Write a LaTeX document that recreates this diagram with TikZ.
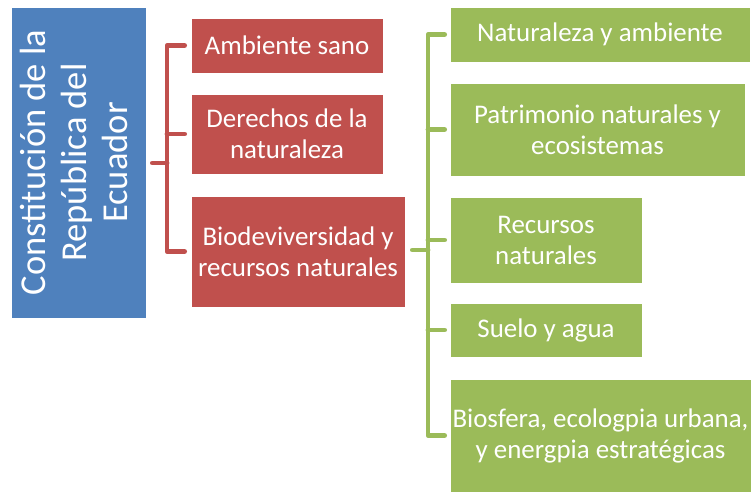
\documentclass[tikz,border=0pt]{standalone}
\usepackage{fontspec}
\usepackage{graphicx}
\setmainfont{Carlito}
\definecolor{cblue}{HTML}{4F81BD}
\definecolor{cred}{HTML}{C0504D}
\definecolor{cgreen}{HTML}{9BBB59}
\tikzset{
  box/.style={rectangle, draw=white, line width=0.8pt, inner sep=0pt, text=white, align=center,
    font=\fontsize{26.9}{31}\selectfont},
  bluebox/.style={box, fill=cblue},
  redbox/.style={box, fill=cred},
  greenbox/.style={box, fill=cgreen},
  redline/.style={draw=cred, line width=4.8pt, line cap=round, line join=round},
  greenline/.style={draw=cgreen, line width=4.8pt, line cap=round, line join=round},
}
\begin{document}
\begin{tikzpicture}[x=1pt,y=-1pt]
\useasboundingbox (0,0) rectangle (751,493);
\node[bluebox, minimum width=135pt, minimum height=311pt] (b) at (78.5,162.5)
  {\rotatebox{90}{\fontsize{36.5}{41}\selectfont\begin{tabular}{@{}c@{}}Constitución de la\\República del\\Ecuador\end{tabular}}};
\node[redbox, minimum width=192pt, minimum height=55pt] (r1) at (287,45.5) {Ambiente sano};
\node[redbox, minimum width=192pt, minimum height=80pt] (r2) at (287,134) {Derechos de la\\naturaleza};
\node[redbox, minimum width=214pt, minimum height=111pt] (r3) at (298,251.5) {Biodeviversidad y\\recursos naturales};
\node[greenbox, minimum width=300pt, minimum height=55pt] (g1) at (600,34.5) {Naturaleza y ambiente};
\node[greenbox, minimum width=295pt, minimum height=93pt] (g2) at (597.5,129.5) {Patrimonio naturales y\\ecosistemas};
\node[greenbox, minimum width=192pt, minimum height=86pt] (g3) at (546,240) {Recursos\\naturales};
\node[greenbox, minimum width=192pt, minimum height=54pt] (g4) at (546,330) {Suelo y agua};
\node[greenbox, minimum width=301pt, minimum height=113pt] (g5) at (600.5,435.5) {Biosfera, ecologpia urbana,\\y energpia estratégicas};
% red bracket
\coordinate (rb) at (167,163);
\draw[redline, shorten <=6pt] (b.east |- rb) -- (rb);
\draw[redline, shorten <=6pt, shorten >=6pt] (r1.west) -- (rb |- r1.west) -- (rb |- r3.west) -- (r3.west);
\draw[redline, shorten >=6pt] (rb |- r2.west) -- (r2.west);
% green bracket
\coordinate (gb) at (428,250);
\draw[greenline, shorten <=7pt] (r3.east |- gb) -- (gb);
\draw[greenline, shorten <=5pt, shorten >=5pt] (g1.west) -- (gb |- g1.west) -- (gb |- g5.west) -- (g5.west);
\draw[greenline, shorten >=5pt] (gb |- g2.west) -- (g2.west);
\draw[greenline, shorten >=5pt] (gb |- g3.west) -- (g3.west);
\draw[greenline, shorten >=5pt] (gb |- g4.west) -- (g4.west);
\end{tikzpicture}
\end{document}
